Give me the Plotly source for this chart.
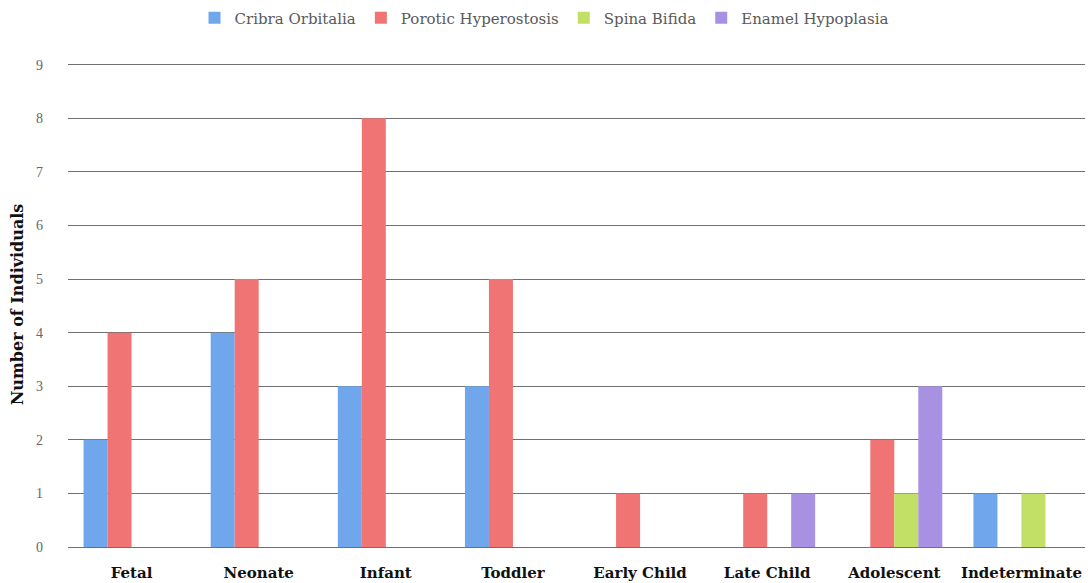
import plotly.graph_objects as go

categories = ["Fetal", "Neonate", "Infant", "Toddler", "Early Child", "Late Child", "Adolescent", "Indeterminate"]
series_names = ["Cribra Orbitalia", "Porotic Hyperostosis", "Spina Bifida", "Enamel Hypoplasia"]
cribra = [2, 4, 3, 3, 0, 0, 0, 1]
porotic = [4, 5, 8, 5, 1, 1, 2, 0]
spina = [0, 0, 0, 0, 0, 0, 1, 1]
enamel = [0, 0, 0, 0, 0, 1, 3, 0]
y_ticks = list(range(0, 10))

colors = ["#6fa6ec", "#f07474", "#c2e065", "#a890e2"]
serif_wide = "DejaVu Serif, serif"

fig = go.Figure()
for name, vals, c in zip(series_names, [cribra, porotic, spina, enamel], colors):
    fig.add_trace(go.Bar(
        x=categories, y=vals, name=name,
        marker=dict(color=c, line=dict(width=0)),
    ))

fig.update_layout(
    width=1088, height=583,
    barmode="group", bargap=0.245, bargroupgap=0,
    plot_bgcolor="white", paper_bgcolor="white",
    margin=dict(l=68, r=3, t=62, b=36, autoexpand=False),
    font=dict(family="Liberation Serif, serif", color="#595959"),
    legend=dict(orientation="h", x=0.5, xanchor="center", xref="container",
                y=0.969, yanchor="middle", yref="container",
                font=dict(size=15, color="#595959", family=serif_wide),
                itemwidth=30, traceorder="normal"),
    xaxis=dict(
        tickfont=dict(size=15, color="#111111", family=serif_wide, weight="bold"),
        showgrid=False, showline=False, ticks="", zeroline=False, automargin=False,
        ticklabelstandoff=15,
    ),
    yaxis=dict(
        range=[0, 9.05], tickvals=y_ticks, ticktext=[str(v) for v in y_ticks],
        showgrid=True, gridcolor="#707070", gridwidth=1,
        zeroline=True, zerolinecolor="#707070", zerolinewidth=1,
        tickfont=dict(size=14, color="#666666"), ticks="", ticklabelstandoff=24,
        automargin=False,
        title=dict(text="<b>Number of Individuals</b>",
                   font=dict(size=16, color="#111111", family=serif_wide), standoff=8),
    ),
)

fig.write_html("out.html", config={"displayModeBar": False},
               post_script="document.body.style.margin='0';")
